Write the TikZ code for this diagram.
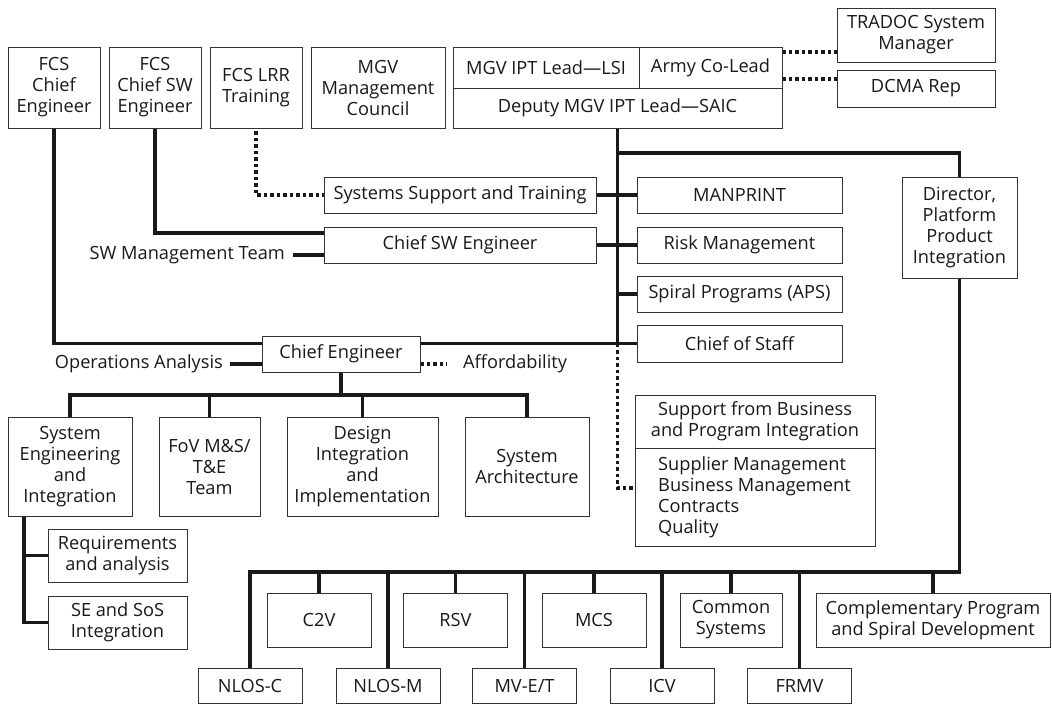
\documentclass[tikz,border=0pt]{standalone}
\usepackage{fontspec}
\setmainfont{Open Sans}
\pgfdeclarelayer{bg}
\pgfsetlayers{bg,main}
\begin{document}
\begin{tikzpicture}[x=1pt,y=-1pt,
  every node/.style={font=\fontsize{18.2}{21}\selectfont, text=black!90},
  bx/.style={draw=black!80, line width=0.9pt, fill=white, align=center, inner sep=0pt},
  con/.style={line width=3.2pt, draw=black!90},
  dotc/.style={line width=3.2pt, draw=black!90, dash pattern=on 3.5pt off 3pt},
  lbl/.style={inner ysep=0pt}]
\useasboundingbox (0,0) rectangle (1052,704);
% top row
\node[bx, minimum width=92pt, minimum height=81pt] (fce) at (54,87.5) {FCS\\Chief\\Engineer};
\node[bx, minimum width=92pt, minimum height=81pt] (fcsw) at (155,87.5) {FCS\\Chief SW\\Engineer};
\node[bx, minimum width=92pt, minimum height=81pt] (lrr) at (256,87.5) {FCS LRR\\Training};
\node[bx, minimum width=134pt, minimum height=81pt] (mgvmc) at (378,87.5) {MGV\\Management\\Council};
\node[bx, minimum width=186pt, minimum height=41pt] (lead) at (546,67.5) {MGV IPT Lead—LSI};
\node[bx, minimum width=143pt, minimum height=41pt] (colead) at (710.5,67.5) {Army Co-Lead};
\node[bx, minimum width=329pt, minimum height=40pt] (deputy) at (617.5,108) {Deputy MGV IPT Lead—SAIC};
\node[bx, minimum width=158pt, minimum height=54pt] (tradoc) at (916,35) {TRADOC System\\Manager};
\node[bx, minimum width=158pt, minimum height=37pt] (dcma) at (916,88.5) {DCMA Rep};
% middle
\node[bx, minimum width=272pt, minimum height=36pt] (ss) at (460,195) {Systems Support and Training};
\node[bx, minimum width=272pt, minimum height=36pt] (csw) at (460,245) {Chief SW Engineer};
\node[bx, minimum width=205pt, minimum height=36pt] (man) at (739.5,195) {MANPRINT};
\node[bx, minimum width=205pt, minimum height=36pt] (risk) at (739.5,245) {Risk Management};
\node[bx, minimum width=205pt, minimum height=36pt] (spiral) at (739.5,294) {Spiral Programs (APS)};
\node[bx, minimum width=205pt, minimum height=37pt] (cos) at (739.5,343.5) {Chief of Staff};
\node[bx, minimum width=115pt, minimum height=101pt] (dir) at (959.5,227.5) {Director,\\Platform\\Product\\Integration};
\node[bx, minimum width=158pt, minimum height=36pt] (ce) at (341,354) {Chief Engineer};
\node[lbl, inner xsep=8pt, anchor=east] (swm) at (293,255) {SW Management Team};
\node[lbl, inner xsep=7pt, anchor=east] (opa) at (230,364) {Operations Analysis};
\node[lbl, inner xsep=16pt, anchor=west] (aff) at (447,364) {Affordability};
% support box
\node[bx, minimum width=240pt, minimum height=53pt] (suptop) at (755,421.5) {Support from Business\\and Program Integration};
\node[bx, minimum width=240pt, minimum height=98pt] (supbot) at (755,497) {};
\node[inner sep=0pt, align=left, anchor=west] (suplist) at (658,497) {Supplier Management\\Business Management\\Contracts\\Quality};
% chief engineer tree
\node[bx, minimum width=124pt, minimum height=99pt] (sei) at (70,466.5) {System\\Engineering\\and\\Integration};
\node[bx, minimum width=101pt, minimum height=99pt] (fov) at (209.5,466.5) {FoV M\&S/\\T\&E\\Team};
\node[bx, minimum width=151pt, minimum height=99pt] (dii) at (362.5,466.5) {Design\\Integration\\and\\Implementation};
\node[bx, minimum width=124pt, minimum height=99pt] (sa) at (527,466.5) {System\\Architecture};
\node[bx, minimum width=139pt, minimum height=53pt] (req) at (117.5,555.5) {Requirements\\and analysis};
\node[bx, minimum width=139pt, minimum height=53pt] (sos) at (117.5,622.5) {SE and SoS\\Integration};
% platforms
\node[bx, minimum width=104pt, minimum height=54pt] (c2v) at (319,620) {C2V};
\node[bx, minimum width=104pt, minimum height=54pt] (rsv) at (455.5,620) {RSV};
\node[bx, minimum width=104pt, minimum height=54pt] (mcs) at (594,620) {MCS};
\node[bx, minimum width=102pt, minimum height=54pt] (common) at (731,620) {Common\\Systems};
\node[bx, minimum width=234pt, minimum height=54pt] (compl) at (933,620) {Complementary Program\\and Spiral Development};
\node[bx, minimum width=104pt, minimum height=35pt] (nlosc) at (250,685.5) {NLOS-C};
\node[bx, minimum width=104pt, minimum height=35pt] (nlosm) at (388,685.5) {NLOS-M};
\node[bx, minimum width=104pt, minimum height=35pt] (mvet) at (524.5,685.5) {MV-E/T};
\node[bx, minimum width=104pt, minimum height=35pt] (icv) at (662,685.5) {ICV};
\node[bx, minimum width=104pt, minimum height=35pt] (frmv) at (799.5,685.5) {FRMV};
\coordinate (trunkbot) at (617.5,343.5);
\coordinate (trunktop) at (617.5,153);
\coordinate (bus) at (0,572);
\coordinate (ceb) at (0,395);
\coordinate (seiv) at (24,516);
\coordinate (dl1) at (0,52);
\coordinate (dl2) at (0,79);
\begin{pgfonlayer}{bg}
\draw[dotc] (colead.east |- dl1) -- (tradoc.west |- dl1);
\draw[dotc] (colead.east |- dl2) -- (dcma.west |- dl2);
\draw[con] (deputy.south) -- (trunkbot);
\draw[con] (trunktop) -| (dir.north);
\draw[con] (ss.east) -- (man.west);
\draw[con] (csw.east) -- (risk.west);
\draw[con] (trunkbot |- spiral.west) -- (spiral.west);
\draw[con] (fce.south) |- (cos.west);
\draw[con] (fcsw.south) |- ([yshift=12pt]csw.west);
\draw[con] (swm.east) -- ([yshift=-10pt]csw.west);
\draw[dotc] (lrr.south) ++(0,3) |- (ss.west);
\draw[con] (opa.east) -- ([yshift=-10pt]ce.west);
\draw[dotc] ([yshift=-10pt]ce.east) -- (aff.west);
\draw[dotc] (trunkbot) |- (supbot.west |- 0,488);
\draw[con] (ce.south) -- (ce.south |- ceb);
\draw[con] (sei.north) |- (sa.north |- ceb) -- (sa.north);
\draw[con] (fov.north) -- (fov.north |- ceb);
\draw[con] (dii.north) -- (dii.north |- ceb);
\draw[con] (seiv) |- (sos.west);
\draw[con] (seiv |- req.west) -- (req.west);
\draw[con] (dir.south) |- (nlosc.north |- bus) -- (nlosc.north);
\foreach \n in {c2v,rsv,mcs,common,compl,nlosm,mvet,icv,frmv}
  \draw[con] (\n.north |- bus) -- (\n.north);
\end{pgfonlayer}
\end{tikzpicture}
\end{document}
